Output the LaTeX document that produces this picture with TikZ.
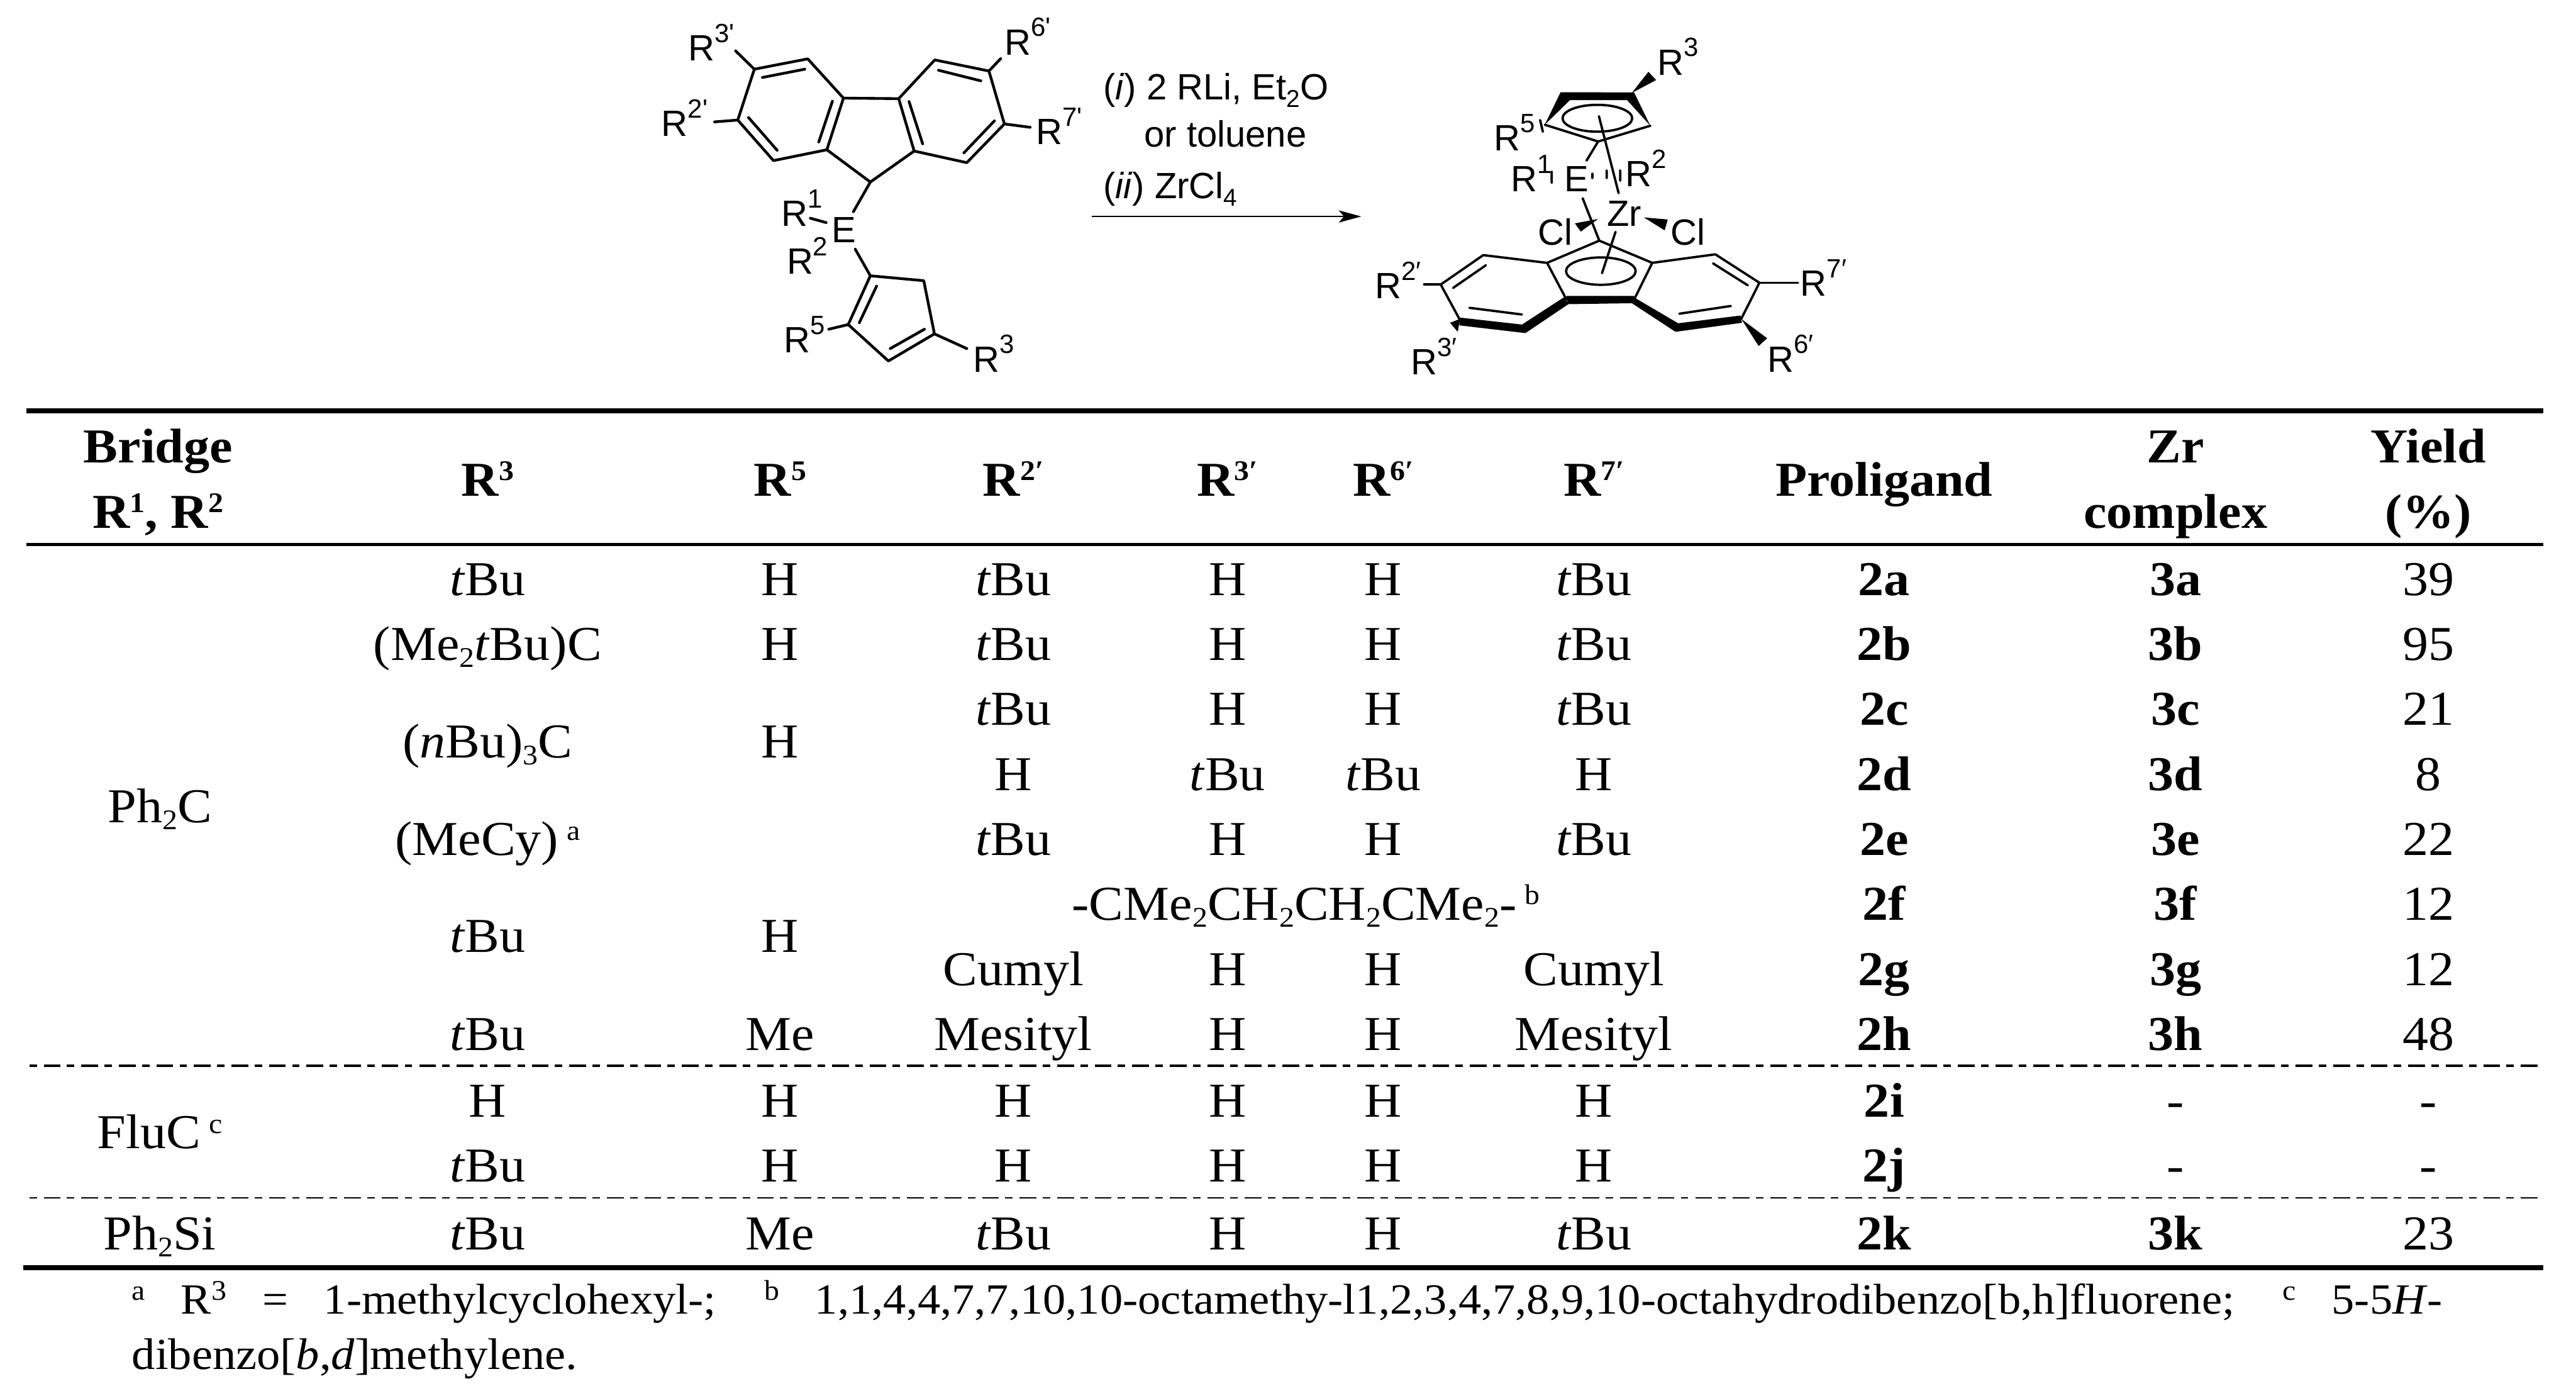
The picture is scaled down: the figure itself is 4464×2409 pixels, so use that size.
\documentclass[tikz,border=0pt]{standalone}
\usepackage{fontspec}
\usetikzlibrary{arrows.meta}
\setmainfont{Liberation Serif}[FakeStretch=1.06]
\newfontfamily\chemf{Liberation Sans}
\newcommand\ssb[1]{\raisebox{-.14em}{\fontsize{14}{14}\selectfont #1}}
\newcommand\ssp[1]{\raisebox{.32em}{\fontsize{14}{14}\selectfont #1}}
\newcommand\tb{\textit{t}Bu}
\newcommand\csp[1]{\raisebox{.5em}{\fontsize{13}{13}\selectfont #1}}
\newcommand\csb[1]{\raisebox{-.2em}{\fontsize{12}{12}\selectfont #1}}
\newcommand\cell[4]{\node[cell] (#1) at (#2,#3) {#4};}
\tikzset{
  cell/.style={anchor=base,inner sep=0pt,font=\fontsize{24}{24}\selectfont},
  foot/.style={anchor=base west,inner sep=0pt,font=\fontsize{21.8}{21.8}\selectfont},
  foot tight/.style={foot,font=\fontsize{21.2}{21.2}\selectfont},
  chem/.style={anchor=base west,inner sep=0pt,font=\chemf\fontsize{18}{18}\selectfont},
  bond/.style={line width=1.35pt,line cap=round,line join=round},
  thin bond/.style={line width=1.15pt,line cap=round,line join=round},
  solid wedge/.style={fill=black,draw=none},
  heavy rule/.style={line width=.09cm},
  mid rule/.style={line width=.05cm},
  row dash/.style={dash pattern=on .29cm off .11cm on .13cm off .12cm,dash phase=.35cm},
}
\begin{document}
\begin{tikzpicture}[x=0.01cm,y=-0.01cm]
\useasboundingbox (0,0) rectangle (4464,2409);
\fill[white] (0,0) rectangle (4464,2409);

% ---------- left molecule (proligand)
\begin{scope}[shift={(1050,0)},x=0.006378cm,y=-0.004464cm]
\coordinate (a) at (403,268); \coordinate (b) at (548,228); \coordinate (c) at (645,380);
\coordinate (d) at (600,580); \coordinate (e) at (455,622); \coordinate (f) at (358,465);
\coordinate (g) at (795,382); \coordinate (h) at (893,232); \coordinate (i) at (1040,275);
\coordinate (j) at (1082,480); \coordinate (k) at (980,630); \coordinate (l) at (837,585);
\coordinate (m) at (718,705);
\coordinate (n) at (718,1068); \coordinate (o) at (863,1087); \coordinate (p) at (892,1293);
\coordinate (q) at (767,1398); \coordinate (r) at (658,1257);
\coordinate (a1) at (352,197); \coordinate (f1) at (295,472); \coordinate (i1) at (1072,227);
\coordinate (j1) at (1152,493); \coordinate (m1) at (672,820); \coordinate (n1) at (677,965);
\coordinate (e1) at (555,845); \coordinate (e2) at (598,862); \coordinate (r1) at (605,1275);
\coordinate (p1) at (980,1350);
\draw[bond] (a)--(b)--(c)--(d)--(e)--(f)--cycle;
\draw[bond] (g)--(h)--(i)--(j)--(k)--(l)--cycle;
\draw[bond] (c)--(g);
\draw[bond] (d)--(m)--(l);
\draw[bond] (n)--(o)--(p)--(q)--(r)--cycle;
\draw[bond] (425,300)--(540,268) (387,455)--(465,582) (615,392)--(578,550)
  (903,272)--(1018,313) (1055,468)--(972,592) (823,393)--(860,557)
  (735,1108)--(688,1250) (865,1275)--(772,1350);
\draw[bond] (a)--(a1) (f)--(f1) (i)--(i1) (j)--(j1) (m)--(m1) (n)--(n1) (e1)--(e2) (r)--(r1) (p)--(p1);
\node[chem] (lR3p) at (222,235) {R\csp{3'}};
\node[chem] (lR2p) at (150,527) {R\csp{2'}};
\node[chem] (lR6p) at (1082,212) {R\csp{6'}};
\node[chem] (lR7p) at (1167,560) {R\csp{7'}};
\node[chem] (lR1) at (475,877) {R\csp{1}};
\node[chem] (lE) at (612,940) {E};
\node[chem] (lR2) at (490,1060) {R\csp{2}};
\node[chem] (lR5) at (482,1365) {R\csp{5}};
\node[chem] (lR3) at (997,1440) {R\csp{3}};
\end{scope}

% ---------- reaction conditions
\node[chem] (cond1) at (1911,173) {(\textit{i}) 2 RLi, Et\csb{2}O};
\node[chem] (cond2) at (1982,255) {or toluene};
\node[chem] (cond3) at (1911,344) {(\textit{ii}) ZrCl\csb{4}};
\coordinate (arrS) at (1892,375); \coordinate (arrE) at (2359,375);
\draw[line width=.03cm,-{Stealth[length=.39cm,width=.21cm,inset=.09cm]}] (arrS)--(arrE);

% ---------- right molecule (complex)
\begin{scope}[shift={(2250,0)},x=0.006698cm,y=-0.004464cm]
\coordinate (A) at (637,483); \coordinate (D) at (910,487); \coordinate (F) at (775,548);
\coordinate (F1) at (745,622);
\coordinate (I) at (778,932); \coordinate (J) at (643,1018); \coordinate (K) at (915,1018);
\coordinate (L) at (693,1160); \coordinate (M) at (868,1160);
\coordinate (N) at (478,988); \coordinate (O) at (368,1102); \coordinate (P) at (418,1240);
\coordinate (S) at (1078,985); \coordinate (T) at (1192,1095); \coordinate (U) at (1145,1235);
\coordinate (E1) at (735,768); \coordinate (O1) at (325,1102); \coordinate (T1) at (1292,1095);
\draw[thin bond] (A)--(F)--(D) (F)--(F1);
\fill[solid wedge] (A)--(678,357)--(868,358)--(910,487)--(850,388)--(702,388)--cycle;
\fill[solid wedge] (862,360)--(905,278)--(925,310)--cycle;
\draw[thin bond] (773,458) ellipse [x radius=90,y radius=52];
\draw[thin bond] (777,450)--(828,748);
\draw[thin bond] (E1)--(I);
\draw[thin bond] (760,672)--(760,690) (797,660)--(797,690) (832,660)--(832,700) (655,665)--(655,708) (625,465)--(632,510);
\fill[solid wedge] (775,848)--(715,865)--(730,897)--cycle;
\fill[solid wedge] (893,842)--(955,850)--(947,892)--cycle;
\draw[thin bond] (J)--(I)--(K) (J)--(L) (K)--(M);
\draw[thin bond] (J)--(N)--(O)--(P) (K)--(S)--(T)--(U);
\fill[solid wedge] (693,1146)--(868,1146)--(872,1174)--(697,1178)--cycle;
\fill[solid wedge] (418,1230)--(578,1257)--(686,1152)--(700,1176)--(587,1290)--(416,1260)--cycle;
\fill[solid wedge] (866,1150)--(982,1252)--(1143,1222)--(1147,1250)--(975,1285)--(862,1174)--cycle;
\draw[thin bond] (485,1027)--(400,1115) (442,1192)--(578,1218) (1072,1020)--(1162,1105) (985,1215)--(1118,1185);
\draw[thin bond] (782,1050) ellipse [x radius=90,y radius=53];
\draw[thin bond] (820,898)--(785,1058);
\draw[thin bond] (O1)--(O) (T)--(T1);
\fill[solid wedge] (1145,1235)--(1212,1310)--(1190,1340)--cycle;
\fill[solid wedge] (418,1235)--(392,1250)--(412,1285)--cycle;
\node[chem] (rR3) at (928,290) {R\csp{3}};
\node[chem] (rR5) at (505,583) {R\csp{5}};
\node[chem] (rR1) at (548,743) {R\csp{1}};
\node[chem] (rE) at (687,743) {E};
\node[chem] (rR2) at (845,723) {R\csp{2}};
\node[chem] (rZr) at (797,877) {Zr};
\node[chem] (rCl1) at (618,950) {Cl};
\node[chem] (rCl2) at (962,950) {Cl};
\node[chem] (rR2p) at (197,1157) {R\csp{2′}};
\node[chem] (rR7p) at (1297,1147) {R\csp{7′}};
\node[chem] (rR3p) at (290,1452) {R\csp{3′}};
\node[chem] (rR6p) at (1212,1440) {R\csp{6′}};
\end{scope}

% ---------- table rules
\coordinate (t1) at (46,712); \coordinate (t2) at (4407,712);
\coordinate (h1) at (46,943); \coordinate (h2) at (4407,943);
\coordinate (d1) at (46,1846); \coordinate (d2) at (4407,1846);
\coordinate (g1) at (46,2075); \coordinate (g2) at (4407,2075);
\coordinate (b1) at (40,2196); \coordinate (b2) at (4407,2196);
\draw[heavy rule] (t1)--(t2);
\draw[mid rule] (h1)--(h2);
\draw[line width=.04cm,row dash] (d1)--(d2);
\draw[line width=.022cm,row dash] (g1)--(g2);
\draw[heavy rule] (b1)--(b2);

% ---------- header
\cell{hB1}{274}{802}{\textbf{Bridge}}
\cell{hB2}{274}{915}{\textbf{R\ssp{1}, R\ssp{2}}}
\cell{hR3}{845}{859}{\textbf{R\ssp{3}}}
\cell{hR5}{1352}{859}{\textbf{R\ssp{5}}}
\cell{hR2}{1756}{859}{\textbf{R\ssp{2′}}}
\cell{hR3p}{2127}{859}{\textbf{R\ssp{3′}}}
\cell{hR6}{2397}{859}{\textbf{R\ssp{6′}}}
\cell{hR7}{2762}{859}{\textbf{R\ssp{7′}}}
\cell{hP}{3265}{859}{\textbf{Proligand}}
\cell{hZ1}{3770}{802}{\textbf{Zr}}
\cell{hZ2}{3770}{915}{\textbf{complex}}
\cell{hY1}{4208}{802}{\textbf{Yield}}
\cell{hY2}{4208}{915}{\textbf{(\%)}}

% ---------- bridge column
\cell{bPhC}{277}{1425}{Ph\ssb{2}C}
\cell{bFlu}{277}{1990}{FluC\,\ssp{c}}
\cell{bPhSi}{277}{2165}{Ph\ssb{2}Si}

% ---------- R3 and R5 columns
\cell{a1}{845}{1032}{\tb}           \cell{a2}{1352}{1032}{H}
\cell{b1c}{845}{1144}{(Me\ssb{2}\tb)C} \cell{b2c}{1352}{1144}{H}
\cell{c1}{845}{1313}{(\textit{n}Bu)\ssb{3}C} \cell{c2}{1352}{1313}{H}
\cell{e1c}{845}{1482}{(MeCy)\,\ssp{a}}
\cell{f1c}{845}{1650}{\tb}           \cell{f2c}{1352}{1650}{H}
\cell{h1c}{845}{1819}{\tb}           \cell{h2c}{1352}{1819}{Me}
\cell{i1c}{845}{1935}{H}             \cell{i2c}{1352}{1935}{H}
\cell{j1c}{845}{2047}{\tb}           \cell{j2c}{1352}{2047}{H}
\cell{k1c}{845}{2165}{\tb}           \cell{k2c}{1352}{2165}{Me}

% ---------- substituent columns
\newcommand\subst[6]{%
  \cell{#1p}{1756}{#2}{#3}\cell{#1q}{2127}{#2}{#4}\cell{#1r}{2397}{#2}{#5}\cell{#1s}{2762}{#2}{#6}}
\subst{ra}{1032}{\tb}{H}{H}{\tb}
\subst{rb}{1144}{\tb}{H}{H}{\tb}
\subst{rc}{1256}{\tb}{H}{H}{\tb}
\subst{rd}{1369}{H}{\tb}{\tb}{H}
\subst{re}{1482}{\tb}{H}{H}{\tb}
\cell{rf}{2263}{1594}{-CMe\ssb{2}CH\ssb{2}CH\ssb{2}CMe\ssb{2}-\,\ssp{b}}
\subst{rg}{1707}{Cumyl}{H}{H}{Cumyl}
\subst{rh}{1819}{Mesityl}{H}{H}{Mesityl}
\subst{ri}{1935}{H}{H}{H}{H}
\subst{rj}{2047}{H}{H}{H}{H}
\subst{rk}{2165}{\tb}{H}{H}{\tb}

% ---------- compound and yield columns
\newcommand\result[5]{%
  \cell{#1x}{3265}{#2}{\textbf{#3}}\cell{#1y}{3770}{#2}{#4}\cell{#1z}{4208}{#2}{#5}}
\result{sa}{1032}{2a}{\textbf{3a}}{39}
\result{sb}{1144}{2b}{\textbf{3b}}{95}
\result{sc}{1256}{2c}{\textbf{3c}}{21}
\result{sd}{1369}{2d}{\textbf{3d}}{8}
\result{se}{1482}{2e}{\textbf{3e}}{22}
\result{sf}{1594}{2f}{\textbf{3f}}{12}
\result{sg}{1707}{2g}{\textbf{3g}}{12}
\result{sh}{1819}{2h}{\textbf{3h}}{48}
\result{si}{1935}{2i}{-}{-}
\result{sj}{2047}{2j}{-}{-}
\result{sk}{2165}{2k}{\textbf{3k}}{23}

% ---------- footnotes
\node[foot tight] (fn1) at (228,2276) {\makebox[40.02cm][s]{\ssp{a} R\ssp{3} = 1-methylcyclohexyl-; \ssp{b} 1,1,4,4,7,7,10,10-octamethy-l1,2,3,4,7,8,9,10-octahydrodibenzo[b,h]fluorene; \ssp{c} 5-5\textit{H}-}};
\node[foot] (fn2) at (228,2372) {dibenzo[\textit{b},\textit{d}]methylene.};
\end{tikzpicture}
\end{document}
